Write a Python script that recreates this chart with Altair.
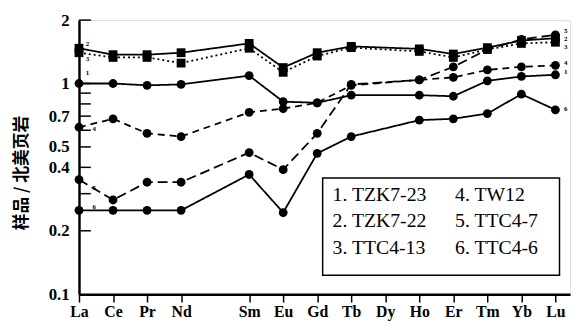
import altair as alt
import pandas as pd

# ---------------- data ----------------
elements = ["La", "Ce", "Pr", "Nd", "Pm", "Sm", "Eu", "Gd", "Tb", "Dy", "Ho", "Er", "Tm", "Yb", "Lu"]
axis_elements = ["La", "Ce", "Pr", "Nd", "Sm", "Eu", "Gd", "Tb", "Dy", "Ho", "Er", "Tm", "Yb", "Lu"]
plotted = ["La", "Ce", "Pr", "Nd", "Sm", "Eu", "Gd", "Tb", "Ho", "Er", "Tm", "Yb", "Lu"]

series_ids = ["1", "2", "3", "4", "5", "6"]
series_names = ["1. TZK7-23", "2. TZK7-22", "3. TTC4-13", "4. TW12", "5. TTC4-7", "6. TTC4-6"]

s1 = [1.00, 1.00, 0.98, 0.99, 1.09, 0.82, 0.81, 0.88, 0.88, 0.87, 1.03, 1.08, 1.10]
s2 = [1.47, 1.37, 1.37, 1.40, 1.55, 1.19, 1.40, 1.50, 1.46, 1.38, 1.48, 1.60, 1.64]
s3 = [1.40, 1.33, 1.33, 1.25, 1.47, 1.13, 1.35, 1.48, 1.42, 1.33, 1.45, 1.55, 1.57]
s4 = [0.62, 0.68, 0.58, 0.56, 0.73, 0.76, 0.81, 0.98, 1.04, 1.07, 1.16, 1.20, 1.22]
s5 = [0.35, 0.28, 0.34, 0.34, 0.47, 0.39, 0.58, 0.99, 1.04, 1.20, 1.45, 1.62, 1.70]
s6 = [0.25, 0.25, 0.25, 0.25, 0.37, 0.244, 0.466, 0.56, 0.67, 0.68, 0.72, 0.89, 0.75]
series_values = [s1, s2, s3, s4, s5, s6]

dash_styles = [[1, 0], [1, 0], [2, 3], [7, 5], [10, 5], [1, 0]]
shape_styles = ["circle", "square", "square", "circle", "circle", "circle"]

y_label_values = [0.1, 0.2, 0.4, 0.5, 0.7, 1, 2]
y_tick_values = [0.2, 0.3, 0.4, 0.5, 0.6, 0.7, 0.8, 0.9, 1, 2]

# small series numbers next to the line ends
left_tags = ["2", "3", "1", "4", "5", "6"]
left_tag_x = [0.25, 0.25, 0.25, 0.45, 0.45, 0.45]
left_tag_y = [1.54, 1.31, 1.12, 0.61, 0.32, 0.26]
right_tags = ["5", "2", "3", "4", "1", "6"]
right_tag_y = [1.78, 1.63, 1.49, 1.245, 1.13, 0.758]

# legend box layout (data coordinates)
legend_col_x = [7.45, 7.45, 7.45, 11.05, 11.05, 11.05]
legend_row_y = [0.294, 0.222, 0.166, 0.294, 0.222, 0.166]

rows = []
for sid, vals in zip(series_ids, series_values):
    for el, v in zip(plotted, vals):
        rows.append({"series": sid, "el": el, "idx": elements.index(el), "value": v})
df = pd.DataFrame(rows)

x_scale = alt.Scale(domain=[0, 14.43], nice=False, zero=False)
y_scale = alt.Scale(type="log", domain=[0.1, 2], nice=False)

label_expr = "[" + ",".join("'%s'" % e for e in elements) + "][datum.value]"

x_axis = alt.Axis(
    values=[elements.index(e) for e in axis_elements],
    labelExpr=label_expr, title=None, grid=False,
    tickSize=8, tickWidth=1.5, tickColor="black",
    domainWidth=2.5, domainColor="black",
    labelFont="Liberation Serif", labelFontSize=16, labelFontWeight="bold",
    labelColor="black", labelPadding=2, labelFlush=False, labelOverlap=False,
    labelBound=False,
)
y_axis = alt.Axis(
    values=y_label_values, format="~g", title=None, grid=False, ticks=False,
    domainWidth=2.5, domainColor="black",
    labelFont="Liberation Serif", labelFontSize=17, labelFontWeight="bold",
    labelColor="black", labelPadding=10, labelFlush=False, labelOverlap=False,
)

def X(field):
    return alt.X(field, scale=x_scale, axis=x_axis)

def Y(field):
    return alt.Y(field, scale=y_scale, axis=y_axis)

base = alt.Chart(df)

lines = base.mark_line(strokeWidth=1.8, color="black").encode(
    x=X("idx:Q"),
    y=Y("value:Q"),
    strokeDash=alt.StrokeDash("series:N", scale=alt.Scale(domain=series_ids, range=dash_styles), legend=None),
    detail="series:N",
    order="idx:Q",
)

points = base.mark_point(filled=True, color="black", opacity=1, size=80).encode(
    x=X("idx:Q"),
    y=Y("value:Q"),
    shape=alt.Shape("series:N", scale=alt.Scale(domain=series_ids, range=shape_styles), legend=None),
)

# inward y ticks
ticks_df = pd.DataFrame({"v": y_tick_values})
yticks = alt.Chart(ticks_df).mark_rule(color="black", strokeWidth=1.5).encode(
    y=Y("v:Q"),
    x=alt.value(0), x2=alt.value(12),
)

# tags
tags_df = pd.DataFrame({
    "t": left_tags + right_tags,
    "x": left_tag_x + [14.3] * len(right_tags),
    "y": left_tag_y + right_tag_y,
})
tags = alt.Chart(tags_df).mark_text(font="Liberation Serif", fontSize=7, fontWeight="bold",
                                    color="black", align="center", baseline="middle").encode(
    x=X("x:Q"), y=Y("y:Q"), text="t:N")

# legend box
box_df = pd.DataFrame({"x": [7.16], "x2": [14.12], "y": [0.356], "y2": [0.123]})
box = alt.Chart(box_df).mark_rect(fill="white", stroke="black", strokeWidth=1.5).encode(
    x=X("x:Q"), x2="x2:Q",
    y=Y("y:Q"), y2="y2:Q")

leg_df = pd.DataFrame({"t": series_names, "x": legend_col_x, "y": legend_row_y})
leg_text = alt.Chart(leg_df).mark_text(font="Liberation Serif", fontSize=20, color="black",
                                       align="left", baseline="middle").encode(
    x=X("x:Q"), y=Y("y:Q"), text="t:N")

title_df = pd.DataFrame({"t": ["样品 / 北美页岩"]})
ytitle = alt.Chart(title_df).mark_text(font="Noto Sans CJK SC", fontSize=17, fontWeight="bold",
                                       color="black", angle=270, align="center",
                                       baseline="middle").encode(
    x=alt.value(-58), y=alt.value(155), text="t:N")

chart = alt.layer(lines, points, yticks, tags, box, leg_text, ytitle).properties(
    width=498, height=278,
    autosize=alt.AutoSizeParams(type="none"),
    padding={"left": 72, "top": 10, "right": 4, "bottom": 30},
).configure_view(stroke=None).configure_axis(labelOverlap=False).configure(background="white")

chart.save("out.html", embed_options={"renderer": "svg", "actions": False})
